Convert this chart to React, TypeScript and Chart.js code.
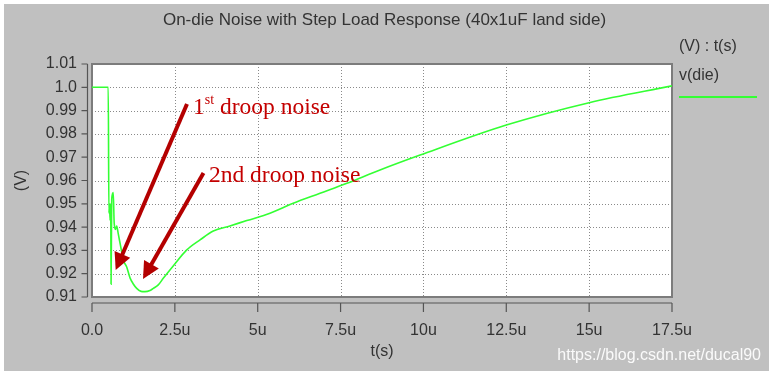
import React, { useEffect, useRef } from "react";
import { Chart, registerables } from "chart.js";

Chart.register(...registerables);

// time in microseconds
const timeUs = [
  0, 0.49, 0.51, 0.53, 0.545, 0.565, 0.575, 0.595, 0.64, 0.67, 0.71, 0.745, 0.79, 0.866,
  0.944, 1.047, 1.147, 1.246, 1.349, 1.479, 1.599, 1.75, 1.85, 2.0, 2.15, 2.45, 2.86,
  3.26, 3.66, 4.16, 4.67, 5.37, 6.07, 6.88, 7.69, 8.69, 9.9, 12.5, 15.0, 17.5,
];
// v(die) in volts
const vDie = [
  1.0, 1.0, 0.946, 0.95, 0.943, 0.95, 0.9155, 0.952, 0.9548, 0.9416, 0.939, 0.9405, 0.9373, 0.9316,
  0.9259, 0.9229, 0.9182, 0.9156, 0.9137, 0.9124, 0.9123, 0.9128, 0.9137, 0.9152, 0.918, 0.9233, 0.9302,
  0.9345, 0.9383, 0.9405, 0.9428, 0.9459, 0.9502, 0.9545, 0.9588, 0.9645, 0.9709, 0.9838, 0.9934, 1.0006,
];

const xTickValues = [0, 2.5, 5, 7.5, 10, 12.5, 15, 17.5];
const xTickLabels = ["0.0", "2.5u", "5u", "7.5u", "10u", "12.5u", "15u", "17.5u"];
const yTickValues = [0.91, 0.92, 0.93, 0.94, 0.95, 0.96, 0.97, 0.98, 0.99, 1.0, 1.01];
const yTickLabels = ["0.91", "0.92", "0.93", "0.94", "0.95", "0.96", "0.97", "0.98", "0.99", "1.0", "1.01"];

// annotation anchors in data space (t in us, v in V)
const noteText = [
  { main: "1", sup: "st", rest: "droop noise", t: 3.047, v: 0.98854 },
  { main: "2nd droop noise", sup: "", rest: "", t: 3.53, v: 0.95936 },
];
const arrowFrom = [
  { t: 2.866, v: 0.99283 },
  { t: 3.364, v: 0.96322 },
];
const arrowTo = [
  { t: 0.715, v: 0.92159 },
  { t: 1.539, v: 0.91773 },
];

const SANS = "'Liberation Sans', Arial, Helvetica, sans-serif";
const SERIF = "'Liberation Serif', 'Times New Roman', serif";
const TEXT = "#333333";
const GREEN = "#33ff33";
const ARROW = "#b40000";
const NOTE = "#c40000";

const decorPlugin = {
  id: "decor",
  beforeDraw(chart: any) {
    const { ctx, width, height, chartArea: a } = chart;
    ctx.save();
    ctx.fillStyle = "#ffffff";
    ctx.fillRect(0, 0, width, height);
    ctx.fillStyle = "#c0c0c0";
    ctx.fillRect(4, 4, width - 4, 367);
    ctx.fillStyle = "#ffffff";
    ctx.fillRect(a.left, a.top, a.right - a.left, a.bottom - a.top);
    ctx.restore();
  },
  beforeDatasetsDraw(chart: any) {
    const { ctx, chartArea: a, scales } = chart;
    ctx.save();
    // dotted grid
    ctx.strokeStyle = "#8a8a8a";
    ctx.lineWidth = 1;
    ctx.setLineDash([1, 2]);
    ctx.beginPath();
    yTickValues.forEach((v) => {
      const py = Math.round(scales.y.getPixelForValue(v)) + 0.5;
      ctx.moveTo(a.left, py);
      ctx.lineTo(a.right, py);
    });
    xTickValues.forEach((v) => {
      const px = Math.round(scales.x.getPixelForValue(v)) + 0.5;
      ctx.moveTo(px, a.top);
      ctx.lineTo(px, a.bottom);
    });
    ctx.stroke();
    ctx.setLineDash([]);
    // plot frame
    ctx.strokeStyle = "#7c7c7c";
    ctx.lineWidth = 2;
    ctx.strokeRect(a.left, a.top, a.right - a.left, a.bottom - a.top);
    // offset axes
    ctx.strokeStyle = "#555555";
    ctx.lineWidth = 1.2;
    const yx = a.left - 4.5;
    ctx.beginPath();
    ctx.moveTo(yx, scales.y.getPixelForValue(yTickValues[yTickValues.length - 1]));
    ctx.lineTo(yx, scales.y.getPixelForValue(yTickValues[0]));
    yTickValues.forEach((v) => {
      const py = scales.y.getPixelForValue(v);
      ctx.moveTo(yx, py);
      ctx.lineTo(yx - 6, py);
    });
    const xy = a.bottom + 6;
    ctx.moveTo(scales.x.getPixelForValue(xTickValues[0]), xy);
    ctx.lineTo(scales.x.getPixelForValue(xTickValues[xTickValues.length - 1]), xy);
    xTickValues.forEach((v) => {
      const px = scales.x.getPixelForValue(v);
      ctx.moveTo(px, xy);
      ctx.lineTo(px, xy + 9);
    });
    ctx.stroke();
    ctx.restore();
  },
  afterDraw(chart: any) {
    const { ctx, scales, chartArea: a } = chart;
    const X = (t: number) => scales.x.getPixelForValue(t);
    const Y = (v: number) => scales.y.getPixelForValue(v);
    ctx.save();
    // header and legend
    ctx.fillStyle = TEXT;
    ctx.font = `16px ${SANS}`;
    ctx.textAlign = "left";
    ctx.textBaseline = "middle";
    ctx.fillText("(V) : t(s)", a.right + 7, 47);
    ctx.fillText("v(die)", a.right + 7, 76);
    ctx.strokeStyle = GREEN;
    ctx.lineWidth = 2;
    ctx.beginPath();
    ctx.moveTo(a.right + 7, 97);
    ctx.lineTo(a.right + 85, 97);
    ctx.stroke();
    // watermark
    ctx.fillStyle = "rgba(255,255,255,0.92)";
    ctx.textAlign = "right";
    ctx.fillText("https://blog.csdn.net/ducal90", 761, 356);

    // arrows
    for (let i = 0; i < arrowFrom.length; i++) {
      const sx = X(arrowFrom[i].t), sy = Y(arrowFrom[i].v);
      const tx = X(arrowTo[i].t), ty = Y(arrowTo[i].v);
      const dx = tx - sx, dy = ty - sy;
      const len = Math.hypot(dx, dy);
      const ux = dx / len, uy = dy / len;
      const L = 17, W = 8.5;
      const bx = tx - ux * L, by = ty - uy * L;
      ctx.strokeStyle = ARROW;
      ctx.lineWidth = 4;
      ctx.lineCap = "butt";
      ctx.beginPath();
      ctx.moveTo(sx, sy);
      ctx.lineTo(bx + ux * 2, by + uy * 2);
      ctx.stroke();
      ctx.fillStyle = ARROW;
      ctx.beginPath();
      ctx.moveTo(tx, ty);
      ctx.lineTo(bx - uy * W, by + ux * W);
      ctx.lineTo(bx + uy * W, by - ux * W);
      ctx.closePath();
      ctx.fill();
    }
    // annotation texts
    ctx.fillStyle = NOTE;
    ctx.textAlign = "left";
    ctx.textBaseline = "alphabetic";
    noteText.forEach((n) => {
      let x = X(n.t);
      const y = Y(n.v);
      ctx.font = `23.5px ${SERIF}`;
      ctx.fillText(n.main, x, y);
      x += ctx.measureText(n.main).width;
      if (n.sup) {
        ctx.font = `14px ${SERIF}`;
        ctx.fillText(n.sup, x, y - 10);
        x += ctx.measureText(n.sup).width;
        ctx.font = `23.5px ${SERIF}`;
        x += ctx.measureText(" ").width;
      }
      if (n.rest) ctx.fillText(n.rest, x, y);
    });
    ctx.restore();
  },
};

export default function App() {
  const ref = useRef<HTMLCanvasElement | null>(null);
  useEffect(() => {
    if (!ref.current) return;
    const chart = new Chart(ref.current, {
      type: "line",
      data: {
        datasets: [
          {
            label: "v(die)",
            data: timeUs.map((t, i) => ({ x: t, y: vDie[i] })),
            borderColor: GREEN,
            borderWidth: 1.6,
            pointRadius: 0,
            cubicInterpolationMode: "monotone",
            fill: false,
            yAxisID: "y",
          },
        ],
      },
      options: {
        responsive: false,
        animation: false,
        events: [],
        layout: { padding: 0 },
        plugins: {
          legend: { display: false },
          tooltip: { enabled: false },
          title: {
            display: true,
            text: "On-die Noise with Step Load Response (40x1uF land side)",
            color: TEXT,
            font: { family: SANS, size: 17, weight: "normal" },
            padding: { top: 10, bottom: 33.6 },
          },
        },
        scales: {
          x: {
            type: "linear",
            min: 0,
            max: 17.5,
            afterBuildTicks: (s: any) => {
              s.ticks = xTickValues.map((v) => ({ value: v }));
            },
            afterFit: (s: any) => {
              s.height = 79;
            },
            ticks: {
              callback: (v: any) => xTickLabels[xTickValues.indexOf(Number(v))] ?? "",
              color: TEXT,
              font: { family: SANS, size: 16 },
              padding: 24.4,
              autoSkip: false,
              maxRotation: 0,
            },
            grid: { display: false, drawTicks: false },
            border: { display: false },
            title: {
              display: true,
              text: "t(s)",
              color: TEXT,
              font: { family: SANS, size: 16 },
              padding: { top: 0, bottom: 14.4 },
            },
          },
          y: {
            type: "linear",
            position: "left",
            min: 0.91,
            max: 1.01,
            afterBuildTicks: (s: any) => {
              s.ticks = yTickValues.map((v) => ({ value: v }));
            },
            afterFit: (s: any) => {
              s.width = 92;
            },
            ticks: {
              callback: (_v: any, i: number) => yTickLabels[i] ?? "",
              color: TEXT,
              font: { family: SANS, size: 16 },
              padding: 15,
              autoSkip: false,
            },
            grid: { display: false, drawTicks: false },
            border: { display: false },
            title: {
              display: true,
              text: "(V)",
              color: TEXT,
              font: { family: SANS, size: 16 },
              padding: { top: 12.4, bottom: 0 },
            },
          },
          legendSpace: {
            type: "linear",
            position: "right",
            min: 0,
            max: 1,
            afterFit: (s: any) => {
              s.width = 97;
            },
            ticks: { display: false },
            grid: { display: false, drawTicks: false },
            border: { display: false },
          },
        },
      } as any,
      plugins: [decorPlugin],
    });
    return () => chart.destroy();
  }, []);
  return (
    <div style={{ position: "fixed", left: 0, top: 0, width: 769, height: 376 }}>
      <canvas ref={ref} width={769} height={376} style={{ display: "block", width: 769, height: 376 }} />
    </div>
  );
}
